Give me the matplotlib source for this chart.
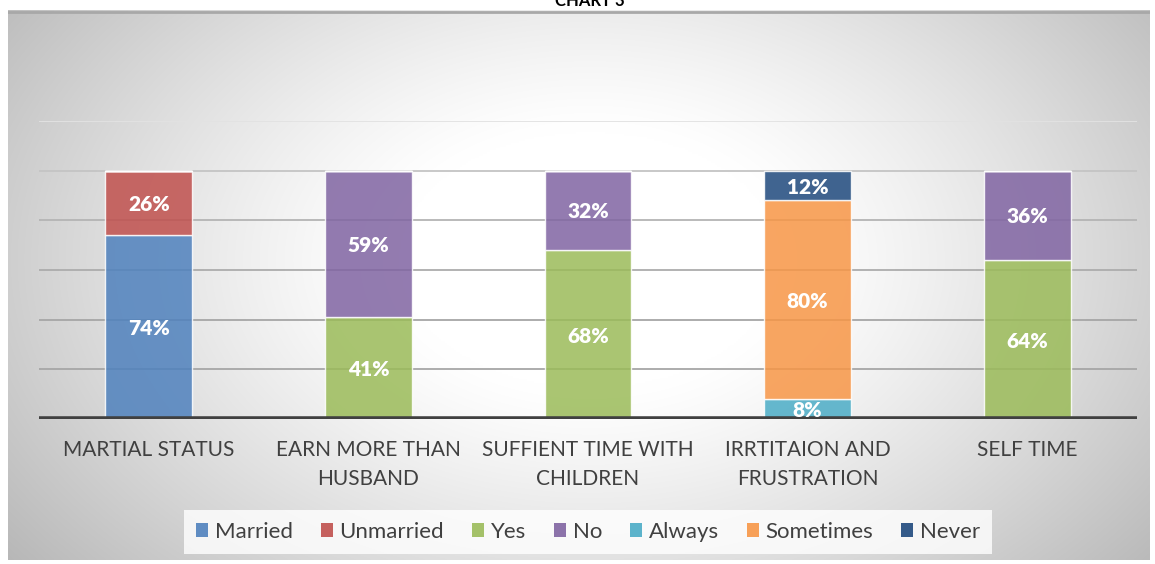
import numpy as np
import matplotlib
matplotlib.use("Agg")
import matplotlib.pyplot as plt
from matplotlib.patches import Patch

plt.rcParams['font.family'] = ['Lato', 'DejaVu Sans']

categories = ["MARTIAL STATUS", "EARN MORE THAN\nHUSBAND", "SUFFIENT TIME WITH\nCHILDREN",
              "IRRTITAION AND\nFRUSTRATION", "SELF TIME"]
series_names = ["Married", "Unmarried", "Yes", "No", "Always", "Sometimes", "Never"]
married = [74, 0, 0, 0, 0]
unmarried = [26, 0, 0, 0, 0]
yes = [0, 41, 68, 0, 64]
no = [0, 59, 32, 0, 36]
always = [0, 0, 0, 8, 0]
sometimes = [0, 0, 0, 80, 0]
never = [0, 0, 0, 12, 0]
series_values = [married, unmarried, yes, no, always, sometimes, never]
colors = ["#4F81BD", "#C0504D", "#9BBB59", "#8064A2", "#4BACC6", "#F79646", "#1F497D"]

W, H = 1155, 564
fig = plt.figure(figsize=(W / 100, H / 100), dpi=100)
fig.patch.set_facecolor("white")

# radial gradient chart area
bg = fig.add_axes([8 / W, 4 / H, 1142 / W, 550 / H])
bg.set_axis_off()
nx, ny = 600, 300
xx, yy = np.meshgrid(np.linspace(8, 1150, nx), np.linspace(10, 560, ny))
d = np.sqrt(((xx - 590) / 640) ** 2 + ((yy - 260) / 430) ** 2)
v = 1.0 - (72 / 255) * np.clip((d - 0.3) / 0.85, 0, 1) ** 1.2
img = np.dstack([v, v, v])
bg.imshow(img, extent=[0, 1, 0, 1], aspect="auto", origin="upper", interpolation="bilinear")
bg.set_xlim(0, 1)
bg.set_ylim(0, 1)
bg.plot([0.0, 1.0], [0.997, 0.997], color="#a8a8a8", lw=2, transform=bg.transAxes)

ax = fig.add_axes([39 / W, 145 / H, 1098 / W, 298 / H])
ax.set_facecolor("none")
ax.set_xlim(-0.5, len(categories) - 0.5)
ax.set_ylim(0, 120)

grid_colors = {20: "#a6a6a6", 40: "#a6a6a6", 60: "#acacac", 80: "#b4b4b4", 100: "#c4c4c4", 120: "#e2e2e2"}
for yv, c in grid_colors.items():
    ax.axhline(yv, color=c, lw=1.3, zorder=1)

x = np.arange(len(categories))
bottom = np.zeros(len(categories))
for name, vals, col in zip(series_names, series_values, colors):
    vals = np.array(vals, dtype=float)
    ax.bar(x, vals, width=0.395, bottom=bottom, color=col, alpha=0.85,
           edgecolor=(1, 1, 1, 0.6), linewidth=1.0, zorder=2, label=name)
    for xi, b, val in zip(x, bottom, vals):
        if val > 0:
            ax.text(xi, b + val / 2, f"{int(val)}%", ha="center", va="center_baseline",
                    color="white", fontsize=15, fontweight="heavy", zorder=4)
    bottom += vals

ax.axhline(0, color="#404040", lw=4, zorder=3)
for s in ax.spines.values():
    s.set_visible(False)
ax.set_yticks([])
ax.set_xticks(x)
ax.set_xticklabels(categories, fontsize=15, color="#404040", linespacing=1.55)
ax.tick_params(axis="x", length=0, pad=15)

handles = [Patch(facecolor=c, edgecolor="none", alpha=0.9) for c in colors]
leg = fig.legend(handles, series_names, loc="center", bbox_to_anchor=(588 / W, 1 - 532 / H),
                 ncol=7, frameon=True, fontsize=16, handlelength=0.55, handleheight=0.55,
                 handletextpad=0.3, columnspacing=1.25, borderpad=0.55, fancybox=False)
leg.get_frame().set_facecolor((1, 1, 1, 0.45))
leg.get_frame().set_edgecolor("none")
for t in leg.get_texts():
    t.set_color("#404040")

fig.text(590 / W, 1 - 6 / H, "CHART 3", ha="center", va="baseline", fontsize=12,
         fontweight="bold", color="black")

fig.savefig("out.png", dpi=100)
